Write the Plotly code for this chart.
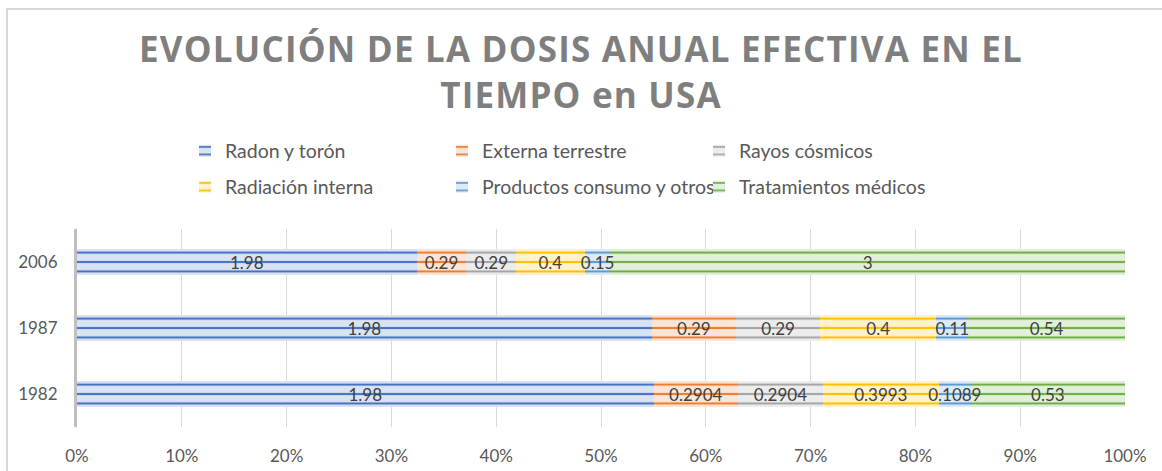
import plotly.graph_objects as go

# valores (dosis en mSv por fuente)
years = ["1982", "1987", "2006"]
series = ["Radon y torón", "Externa terrestre", "Rayos cósmicos",
          "Radiación interna", "Productos consumo y otros", "Tratamientos médicos"]
radon = [1.98, 1.98, 1.98]
externa = [0.2904, 0.29, 0.29]
cosmicos = [0.2904, 0.29, 0.29]
interna = [0.3993, 0.4, 0.4]
productos = [0.1089, 0.11, 0.15]
medicos = [0.53, 0.54, 3]
x_ticks = [0, 10, 20, 30, 40, 50, 60, 70, 80, 90, 100]

values = [radon, externa, cosmicos, interna, productos, medicos]
line_colors = ["#4472C4", "#ED7D31", "#A5A5A5", "#FFC000", "#5B9BD5", "#70AD47"]
fill_colors = ["#DAE3F3", "#FBE5D6", "#EDEDED", "#FFF2CC", "#DEEBF7", "#E2F0D9"]

fig = go.Figure()
for i, (name, vals, lc, fc) in enumerate(zip(series, values, line_colors, fill_colors)):
    fig.add_trace(go.Bar(
        y=years, x=vals, name=name, orientation="h",
        legend="legend" if i < 3 else "legend2",
        marker=dict(
            color=fc,
            line=dict(width=0),
            pattern=dict(shape="-", fgcolor=lc, bgcolor=fc,
                         size=9.43, solidity=0.22, fillmode="replace"),
        ),
    ))

# etiquetas en un eje superpuesto para que queden encima de todas las barras
for name, vals in zip(series, values):
    fig.add_trace(go.Bar(
        y=years, x=vals, name=name, orientation="h", xaxis="x2",
        showlegend=False, hoverinfo="skip",
        marker=dict(color="rgba(0,0,0,0)", line=dict(width=0)),
        text=[str(v) for v in vals],
        textposition="inside", insidetextanchor="middle",
        constraintext="none", textangle=0,
        textfont=dict(family="Lato", size=17, color="#404040"),
    ))

legend_common = dict(
    orientation="h", xref="container", yref="container",
    x=185 / 1162, xanchor="left", yanchor="middle",
    entrywidth=212, entrywidthmode="pixels", traceorder="normal",
    font=dict(family="Lato", size=19.5, color="#595959"),
    bgcolor="rgba(0,0,0,0)",
)

fig.update_layout(
    width=1162, height=471,
    barmode="stack", barnorm="percent", bargap=0.6,
    plot_bgcolor="white", paper_bgcolor="white",
    margin=dict(l=77, r=37, t=229, b=44),
    uniformtext=dict(minsize=17, mode="show"),
    title=dict(
        text="EVOLUCIÓN DE LA DOSIS ANUAL EFECTIVA EN EL<br>TIEMPO en USA",
        x=0.5, xanchor="center", y=1 - 62 / 471, yanchor="middle",
        font=dict(family="Open Sans", size=35, color="#7F7F7F", weight="bold"),
    ),
    legend=dict(legend_common, y=1 - 151 / 471),
    legend2=dict(legend_common, y=1 - 187 / 471),
    xaxis=dict(
        range=[0, 100], tickvals=x_ticks,
        ticktext=[f"{t}%" for t in x_ticks],
        showgrid=True, gridcolor="#D9D9D9", gridwidth=1,
        zeroline=False, showline=False, automargin=False,
        tickfont=dict(family="Lato", size=17, color="#595959"),
        ticks="", ticklabelstandoff=17,
    ),
    xaxis2=dict(overlaying="x", matches="x", visible=False),
    yaxis=dict(
        type="category", categoryorder="array", categoryarray=years,
        showgrid=False, zeroline=False, automargin=False,
        showline=True, linecolor="#BFBFBF", linewidth=3,
        tickfont=dict(family="Lato", size=17, color="#595959"),
        ticks="", ticklabelstandoff=13,
    ),
    shapes=[dict(
        type="rect", xref="paper", yref="paper",
        x0=-0.0668, x1=1.1, y0=-0.3, y1=2.111,
        line=dict(color="#D9D9D9", width=2), fillcolor="rgba(0,0,0,0)",
        layer="below",
    )],
)

fig.write_html(
    "out.html",
    config={"displayModeBar": False},
    post_script=(
        "document.body.style.margin='0';"
        "document.querySelectorAll('.gtitle').forEach(function(t){"
        "t.style.letterSpacing='1.2px';});"
    ),
)
